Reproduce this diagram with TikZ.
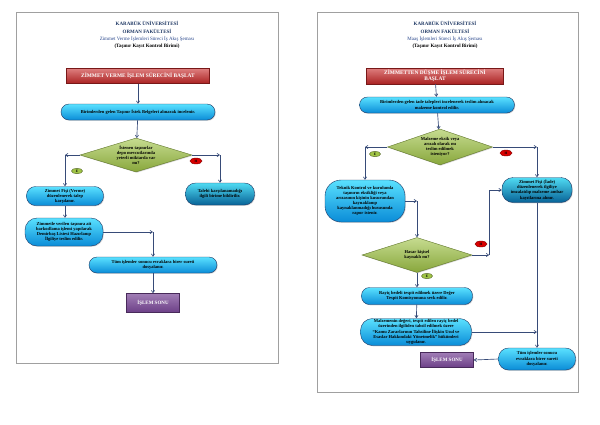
\documentclass[tikz,border=0pt]{standalone}
\usepackage{fontspec}
\setmainfont{Liberation Serif}
\usetikzlibrary{positioning,shapes.geometric,arrows.meta,shadows,calc}
\definecolor{myred}{RGB}{200,40,40}
\definecolor{mynavy}{RGB}{31,56,100}
\definecolor{mytitle}{RGB}{40,70,140}
\definecolor{mycyan}{RGB}{90,225,255}
\definecolor{myblue}{RGB}{10,140,215}
\definecolor{mygreen}{RGB}{160,196,70}
\definecolor{mypurple}{RGB}{120,70,150}
\definecolor{myarrow}{RGB}{55,75,120}
\definecolor{myframe}{RGB}{160,160,160}

\begin{document}
\begin{tikzpicture}[x=1pt,y=-1pt,
  frame/.style={draw=myframe,line width=1pt},
  title/.style={font=\bfseries\fontsize{5}{6}\selectfont,text=mynavy},
  subtitle/.style={font=\fontsize{5}{6}\selectfont,text=mytitle},
  unit/.style={font=\bfseries\fontsize{5}{6}\selectfont,text=black},
  shade/.style={drop shadow={opacity=0.3,shadow xshift=0.8pt,shadow yshift=-0.8pt}},
  startbox/.style={rectangle,draw=myred!60!black,top color=myred!60!white,bottom color=myred!85!black,
    text=white,font=\bfseries\fontsize{5.4}{6.3}\selectfont,align=center,inner sep=1pt,shade},
  procbox/.style={rectangle,rounded corners=7pt,draw=mynavy,line width=0.4pt,top color=mycyan,bottom color=myblue,
    text=black,font=\bfseries\fontsize{4.5}{5.1}\selectfont,align=center,inner sep=1pt,shade},
  dullbox/.style={procbox,top color=myblue!45!cyan!70!white,bottom color=myblue!70!black},
  decision/.style={diamond,draw=mygreen!60!black,line width=0.4pt,top color=mygreen!60!white,bottom color=mygreen!85!black,
    inner sep=0pt,shade},
  dectext/.style={font=\bfseries\fontsize{4.5}{5.1}\selectfont,align=center,text=black},
  endbox/.style={rectangle,draw=mypurple!60!black,top color=mypurple!70!white,bottom color=mypurple!90!black,
    text=white,font=\bfseries\fontsize{5}{6}\selectfont,inner sep=1pt,shade},
  evet/.style={ellipse,draw=mygreen!50!black,fill=mygreen,minimum width=11pt,minimum height=5.5pt,inner sep=0pt,
    font=\bfseries\fontsize{3.5}{4}\selectfont},
  hayir/.style={ellipse,draw=red!50!black,fill=red!85!black,minimum width=12pt,minimum height=6pt,inner sep=0pt,
    font=\bfseries\fontsize{3.5}{4}\selectfont},
  flow/.style={->,>={Straight Barb[length=2.4pt,width=3.2pt]},draw=myarrow,line width=0.65pt}
]
\useasboundingbox (0,0) rectangle (600,424);
\fill[white] (0,0) rectangle (600,424);

% the left page
\draw[frame] (16,12) rectangle (278,363);
\node[title] (lt1) at (147,23) {KARABÜK ÜNİVERSİTESİ};
\node[title] (lt2) at (147,31) {ORMAN FAKÜLTESİ};
\node[subtitle] (lt3) at (147,39) {Zimmet Verme İşlemleri Süreci İş Akış Şeması};
\node[unit] (lt4) at (147,46) {(Taşınır Kayıt Kontrol Birimi)};

\node[startbox,minimum width=143pt,minimum height=15pt] (lstart) at (138,76)
  {ZİMMET VERME İŞLEM SÜRECİNİ BAŞLAT};
\node[procbox,minimum width=154pt,minimum height=16pt,rounded corners=8pt] (lrecv) at (138,112)
  {Birimlerden gelen Taşınır İstek Belgeleri alınarak incelenir.};
\node[decision,minimum width=112pt,minimum height=34pt,
  label={[dectext]center:İstenen taşınırlar\\depo mevcutlarında\\yeterli miktarda var\\mı?}] (ldec) at (136,155) {};
\node[procbox,minimum width=77pt,minimum height=19pt,rounded corners=9pt] (lzf) at (65,196)
  {Zimmet Fişi (Verme)\\düzenlenerek talep\\karşılanır.};
\node[dullbox,minimum width=69pt,minimum height=22pt,rounded corners=10pt] (ltal) at (220,194)
  {Talebi karşılanamadığı\\ilgili birime bildirilir.};
\node[procbox,minimum width=78pt,minimum height=28pt,rounded corners=12pt] (lbar) at (64,232)
  {Zimmetle verilen taşınıra ait\\barkodlama işlemi yapılarak\\Demirbaş Listesi Hazırlanıp\\İlgiliye teslim edilir.};
\node[procbox,minimum width=128pt,minimum height=16pt,rounded corners=8pt] (ltum) at (153,265)
  {Tüm işlemler sonucu evraklara birer sureti\\dosyalanır.};
\node[endbox,minimum width=53pt,minimum height=19pt] (lend) at (153,303) {İŞLEM SONU};

\node[evet] (le) at (77,171) {E};
\node[hayir] (lh) at (196,161) {H};

% the left connectors
\coordinate (lc1) at (ldec.west -| lzf.north);
\coordinate (lc2) at (ldec.east -| ltal.north);
\coordinate (lc3) at (lbar.east -| ltum.north);
\draw[flow] (lstart) -- (lrecv);
\draw[flow] (lrecv) -- (ldec);
\draw[flow] (ldec.west) -- (lc1);
\draw[flow] (lc1) -- (lzf.north);
\draw[flow] (ldec.east) -- (lc2);
\draw[flow] (lc2) -- (ltal.north);
\draw[flow] (lzf.south) -- (lzf.south |- lbar.north);
\draw[flow] (lbar.east) -- (lc3);
\draw[flow] (lc3) -- (ltum.north);
\draw[flow] (ltum) -- (lend);

% the right page
\draw[frame] (317,12) rectangle (578,392);
\node[title] (rt1) at (445,23) {KARABÜK ÜNİVERSİTESİ};
\node[title] (rt2) at (445,31) {ORMAN FAKÜLTESİ};
\node[subtitle] (rt3) at (445,39) {Maaş İşlemleri Süreci İş Akış Şeması};
\node[unit] (rt4) at (445,46) {(Taşınır Kayıt Kontrol Birimi)};

\node[startbox,minimum width=137pt,minimum height=16pt] (rstart) at (435,76)
  {ZİMMETTEN DÜŞME İŞLEM SÜRECİNİ\\BAŞLAT};
\node[procbox,minimum width=155pt,minimum height=16pt,rounded corners=8pt] (rrecv) at (437,105)
  {Birimlerden gelen iade talepleri incelenerek teslim alınacak\\malzeme kontrol edilir.};
\node[decision,minimum width=105pt,minimum height=36pt,
  label={[dectext]center:Malzeme eksik veya\\arızalı olarak mı\\teslim edilmek\\isteniyor?}] (rdec) at (440,147) {};
\node[procbox,minimum width=80pt,minimum height=42pt,rounded corners=16pt] (rtek) at (365,201)
  {Teknik Kontrol ve kurulumla\\taşınırın eksikliği veya\\arızasının kişinin kusurundan\\kaynaklanıp\\kaynaklanmadığı hususunda\\rapor istenir.};
\node[dullbox,minimum width=70pt,minimum height=25pt,rounded corners=11pt] (rzf) at (537,190)
  {Zimmet Fişi (İade)\\düzenlenerek ilgiliye\\imzalatılıp malzeme ambar\\kayıtlarına alınır.};
\node[decision,minimum width=110pt,minimum height=35pt,
  label={[dectext]center:Hasar kişisel\\kaynaklı mı?}] (rdec2) at (417,255) {};
\node[procbox,minimum width=111pt,minimum height=17pt,rounded corners=8pt] (rray) at (417,296)
  {Rayiç bedeli tespit edilmek üzere Değer\\Tespit Komisyonuna sevk edilir.};
\node[procbox,minimum width=111pt,minimum height=27pt,rounded corners=12pt] (rmal) at (416,332)
  {Malzemenin değeri, tespit edilen rayiç bedel\\üzerinden ilgiliden tahsil edilmek üzere\\“Kamu Zararlarının Tahsiline İlişkin Usul ve\\Esaslar Hakkındaki Yönetmelik” hükümleri\\uygulanır.};
\node[procbox,minimum width=77pt,minimum height=22pt,rounded corners=10pt] (rtum) at (537,359)
  {Tüm işlemler sonucu\\evraklara birer sureti\\dosyalanır.};
\node[endbox,minimum width=53pt,minimum height=15pt] (rend) at (447,360) {İŞLEM SONU};

\node[evet] (re) at (375,154) {E};
\node[hayir] (rh) at (506,153) {H};
\node[hayir] (rh2) at (481,244) {H};
\node[evet] (re2) at (427,276) {E};

% the right connectors
\coordinate (rc1) at (rdec.west -| rtek.north);
\coordinate (rc2) at (rdec.east -| rzf.north);
\coordinate (rc3) at (rtek.east -| rdec2.north);
\coordinate (rc4) at ($(rdec2.east)+(17,0)$);
\coordinate (rc5) at (rc4 |- rzf.west);
\coordinate (rc6) at (rmal.east -| rtum.north);
\draw[flow] (rstart) -- (rrecv);
\draw[flow] (rrecv) -- (rdec);
\draw[flow] (rdec.west) -- (rc1);
\draw[flow] (rc1) -- (rtek.north);
\draw[flow] (rdec.east) -- (rc2);
\draw[flow] (rc2) -- (rzf.north);
\draw[flow] (rtek.east) -- (rc3);
\draw[flow] (rc3) -- (rdec2.north);
\draw[flow] (rdec2.east) -- (rc4);
\draw[flow] (rc4) -- (rc5) -- (rzf.west);
\draw[flow] (rdec2.south) -- (rray.north);
\draw[flow] (rray) -- (rmal);
\draw[flow] (rmal.east) -- (rc6);
\draw[flow] (rzf.south) -- (rtum.north);
\draw[flow] (rtum.west) -- (rend.east);
\end{tikzpicture}
\end{document}
